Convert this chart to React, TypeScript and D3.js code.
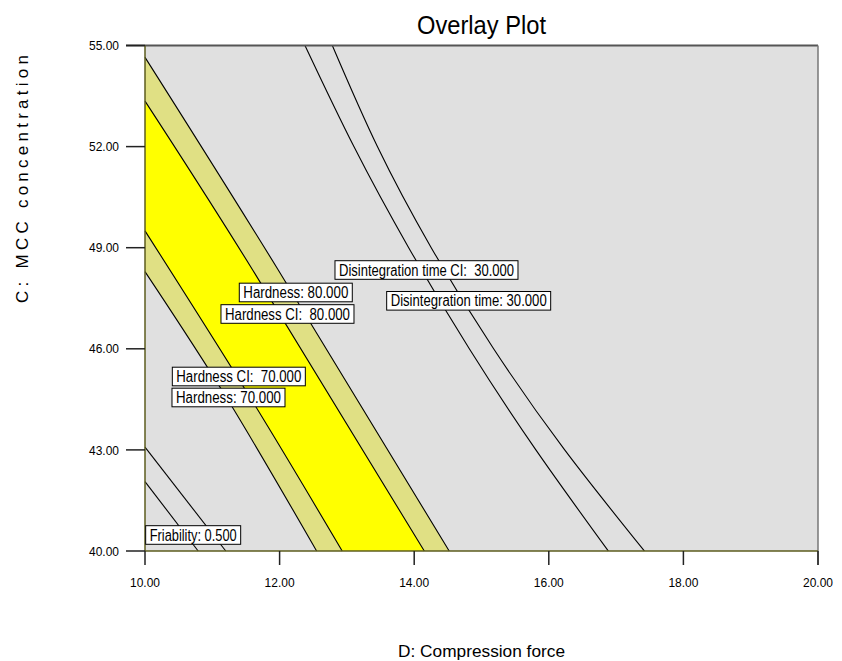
import React from 'react';
import * as d3 from 'd3';

type P = [number, number];

const xTicks = [10, 12, 14, 16, 18, 20];
const yTicks = [40, 43, 46, 49, 52, 55];

// contour lines: [compression force, MCC concentration]
const hardness70CI: P[] = [[10, 48.29], [11.233, 44.48], [12.55, 40]];
const hardness70: P[] = [[10, 49.5], [11.585, 44.48], [12.93, 40]];
const hardness80: P[] = [[10, 53.35], [11.6, 48.34], [14.15, 40]];
const hardness80CI: P[] = [[10, 54.65], [11.98, 48.34], [14.52, 40]];
const disintegrationCI: P[] = [[12.377, 55], [13.104, 52], [13.918, 49], [14.819, 46], [15.808, 43], [16.884, 40]];
const disintegration: P[] = [[12.783, 55], [13.453, 52], [14.253, 49], [15.18, 46], [16.236, 43], [17.42, 40]];
const friabilityA: P[] = [[10, 42.06], [10.79, 40]];
const friabilityB: P[] = [[10, 43.08], [11.2, 40]];

const labelTexts = [
  'Disintegration time CI:  30.000',
  'Disintegration time: 30.000',
  'Hardness: 80.000',
  'Hardness CI:  80.000',
  'Hardness CI:  70.000',
  'Hardness: 70.000',
  'Friability: 0.500',
];
const labelX = [12.823, 13.591, 11.401, 11.129, 10.406, 10.401, 10.01];
const labelY = [48.338, 47.424, 47.671, 47.033, 45.178, 44.555, 40.475];
const labelWidths = [183, 164, 113, 133, 133, 113, 95];

const FONT = '"Liberation Sans", Arial, Helvetica, sans-serif';

export default function App() {
  const W = 842, H = 661;
  const left = 145, right = 818, top = 45.5, bottom = 551;
  const x = d3.scaleLinear().domain([10, 20]).range([left, right]);
  const y = d3.scaleLinear().domain([40, 55]).range([bottom, top]);
  const line = d3.line<P>().x(d => x(d[0])).y(d => y(d[1])).curve(d3.curveNatural);
  const band = (a: P[], b: P[]) =>
    (line(a) as string) + (line([...b].reverse()) as string).replace(/^M/, 'L') + 'Z';

  const contours = [hardness70CI, hardness70, hardness80, hardness80CI, disintegrationCI, disintegration, friabilityA, friabilityB];

  return (
    <svg width={W} height={H} style={{ position: 'absolute', left: 0, top: 0, background: '#fff' }} fontFamily={FONT}>
      <rect x={left} y={top} width={right - left} height={bottom - top} fill="#E0E0E0" />
      <path d={band(hardness70CI, hardness70)} fill="#E0E084" />
      <path d={band(hardness70, hardness80)} fill="#FFFF00" />
      <path d={band(hardness80, hardness80CI)} fill="#E0E084" />
      {contours.map((c, i) => (
        <path key={i} d={line(c) as string} fill="none" stroke="#000" strokeWidth={1.1} />
      ))}
      {/* frame */}
      <line x1={126} x2={right} y1={top} y2={top} stroke="#555" strokeWidth={1.8} />
      <line x1={right} x2={right} y1={top} y2={bottom + 14} stroke="#777" strokeWidth={1.5} />
      <line x1={left} x2={left} y1={top} y2={bottom} stroke="#5c5c1e" strokeWidth={1.5} />
      <line x1={left} x2={right} y1={bottom} y2={bottom} stroke="#5c5c1e" strokeWidth={1.5} />
      {yTicks.map(t => (
        <g key={t}>
          <line x1={126} x2={left} y1={y(t)} y2={y(t)} stroke="#222" strokeWidth={1.5} />
          <text x={119} y={y(t) + 4.6} textAnchor="end" fontSize={13} textLength={30} lengthAdjust="spacingAndGlyphs">{t.toFixed(2)}</text>
        </g>
      ))}
      {xTicks.map(t => (
        <g key={t}>
          <line x1={x(t)} x2={x(t)} y1={bottom} y2={bottom + 14} stroke="#222" strokeWidth={1.5} />
          <text x={x(t)} y={587} textAnchor="middle" fontSize={13} textLength={30} lengthAdjust="spacingAndGlyphs">{t.toFixed(2)}</text>
        </g>
      ))}
      {labelTexts.map((s, i) => {
        const bx = x(labelX[i]);
        const by = y(labelY[i]);
        const w = labelWidths[i];
        return (
          <g key={s}>
            <rect x={bx} y={by - 9.3} width={w} height={18.6} fill="#fff" stroke="#000" strokeWidth={1} />
            <text x={bx + 4} y={by + 5.6} fontSize={16} textLength={w - 8} lengthAdjust="spacingAndGlyphs" style={{ whiteSpace: 'pre' }}>{s}</text>
          </g>
        );
      })}
      <text x={(left + right) / 2} y={34} textAnchor="middle" fontSize={25} textLength={129} lengthAdjust="spacingAndGlyphs">Overlay Plot</text>
      <text x={(left + right) / 2} y={657} textAnchor="middle" fontSize={17} textLength={167} lengthAdjust="spacingAndGlyphs">D: Compression force</text>
      <text transform="translate(28,179) rotate(-90)" textAnchor="middle" fontSize={17} textLength={248} lengthAdjust="spacing">C: MCC concentration</text>
    </svg>
  );
}
